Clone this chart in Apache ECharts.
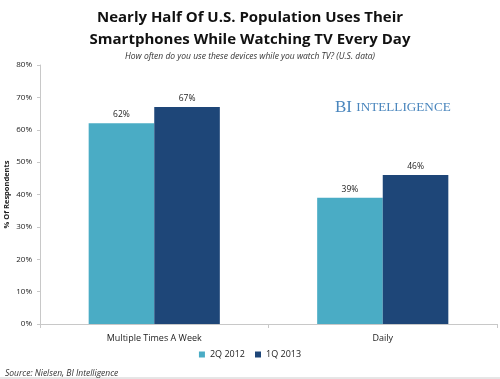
<!DOCTYPE html>
<html><head><meta charset="utf-8">
<script src="https://cdn.jsdelivr.net/npm/echarts@6/dist/echarts.min.js"></script>
<style>html,body{margin:0;padding:0;background:#fff}#c{width:500px;height:379px}</style>
</head><body><div id="c"></div>
<script>
const categories = ['Multiple Times A Week', 'Daily'];
const series2Q2012 = [62, 39];
const series1Q2013 = [67, 46];
const seriesNames = ['2Q 2012', '1Q 2013'];
const yTicks = [0, 10, 20, 30, 40, 50, 60, 70, 80];

const chart = echarts.init(document.getElementById('c'));
const font = '"Open Sans", "Liberation Sans", sans-serif';
chart.setOption({
  animation: false,
  backgroundColor: '#fff',
  title: [{
    text: 'Nearly Half Of U.S. Population Uses Their\nSmartphones While Watching TV Every Day',
    left: 'center', top: 2,
    textStyle: {fontFamily: font, fontWeight: 'bold', fontSize: 15, lineHeight: 22, color: '#111'}
  }, {
    text: 'How often do you use these devices while you watch TV? (U.S. data)',
    left: 'center', top: 47,
    textStyle: {fontFamily: font, fontStyle: 'italic', fontWeight: 'normal', fontSize: 8.5, color: '#333'}
  }, {
    text: 'Source: Nielsen, BI Intelligence',
    left: 0, top: 364,
    textStyle: {fontFamily: font, fontStyle: 'italic', fontWeight: 'normal', fontSize: 8.5, color: '#333'}
  }],
  graphic: [{
    type: 'text', left: 335, top: 99,
    style: {
      text: '{a|BI }{b|INTELLIGENCE}',
      rich: {
        a: {fontFamily: '"Liberation Serif", "DejaVu Serif", serif', fontSize: 17, fill: '#4a86bd'},
        b: {fontFamily: '"Liberation Serif", "DejaVu Serif", serif', fontSize: 13.2, fill: '#4a86bd'}
      }
    }
  }, {
    type: 'line', shape: {x1: 0, y1: 378, x2: 500, y2: 378},
    style: {stroke: '#ccc', lineWidth: 1}
  }],
  legend: {
    data: seriesNames, bottom: 15, left: 'center',
    itemWidth: 6, itemHeight: 6, itemGap: 10, icon: 'rect',
    textStyle: {fontFamily: font, fontSize: 9, color: '#222'}
  },
  grid: {left: 40, right: 3, top: 65, bottom: 55, outerBoundsMode: 'none', containLabel: false},
  xAxis: {
    type: 'category', data: categories,
    axisLine: {lineStyle: {color: '#c8c8c8'}},
    axisTick: {show: true, length: 4, lineStyle: {color: '#c8c8c8'}},
    axisLabel: {fontFamily: font, fontSize: 9, color: '#222', margin: 10}
  },
  yAxis: {
    type: 'value', min: 0, max: 80, interval: 10,
    name: '% Of Respondents', nameLocation: 'middle', nameGap: 29, nameMoveOverlap: false,
    nameTextStyle: {fontFamily: font, fontSize: 7.5, fontWeight: 'bold', color: '#222'},
    axisLine: {show: true, lineStyle: {color: '#c8c8c8'}},
    axisTick: {show: true, length: 3, lineStyle: {color: '#c8c8c8'}},
    splitLine: {show: false},
    axisLabel: {fontFamily: font, fontSize: 8, color: '#222', margin: 8,
      formatter: v => yTicks.includes(v) ? v + '%' : ''}
  },
  series: [{
    name: seriesNames[0], type: 'bar', data: series2Q2012, barWidth: '28.7%', barGap: '0%',
    itemStyle: {color: '#4aacc5'},
    label: {show: true, position: 'top', formatter: '{c}%', fontFamily: font, fontSize: 8.5, color: '#222', distance: 4}
  }, {
    name: seriesNames[1], type: 'bar', data: series1Q2013, barWidth: '28.7%',
    itemStyle: {color: '#1e4678'},
    label: {show: true, position: 'top', formatter: '{c}%', fontFamily: font, fontSize: 8.5, color: '#222', distance: 4}
  }]
});
</script></body></html>
